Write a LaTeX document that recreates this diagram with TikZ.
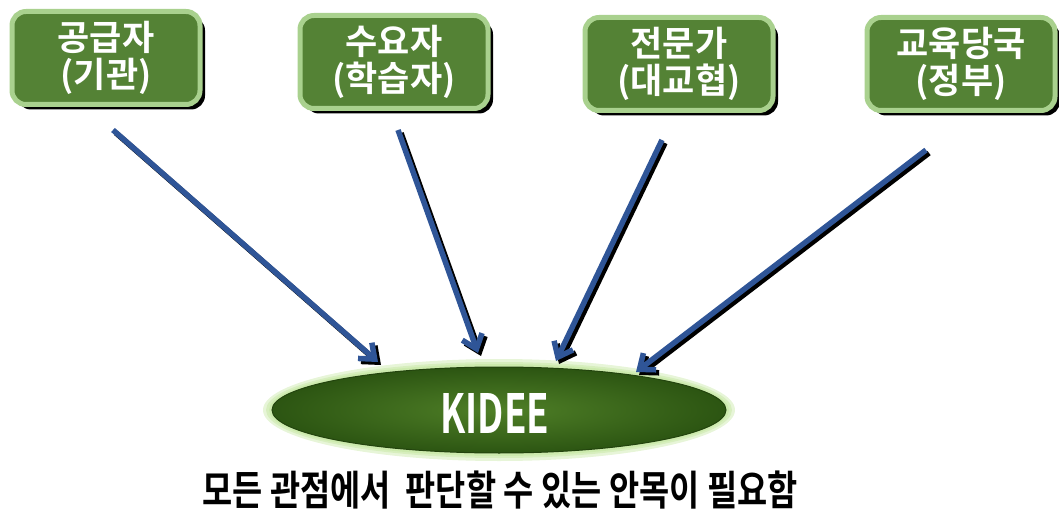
\documentclass[tikz,border=0pt]{standalone}
\usepackage{fontspec}
\setmainfont{Noto Sans CJK KR}[BoldFont={Noto Sans CJK KR Bold}]
\usetikzlibrary{shapes.geometric,shadows,arrows.meta}
\definecolor{boxfill}{HTML}{548235}
\definecolor{boxrim}{HTML}{A9D18E}
\definecolor{arrowblue}{HTML}{2F5597}
\definecolor{eggin}{HTML}{4F7F27}
\definecolor{eggout}{HTML}{2C5512}
\definecolor{glow}{HTML}{B9E28E}
\begin{document}
\begin{tikzpicture}[x=1pt,y=-1pt,
    party/.style={draw=boxrim,fill=boxfill,line width=5pt,rounded corners=14pt,
        minimum width=188pt,minimum height=93pt,align=center,text=white,
        font=\bfseries\fontsize{35}{37}\selectfont,
        drop shadow={shadow xshift=5pt,shadow yshift=-5pt,fill=black,opacity=1}},
    pointer/.style={line width=5.5pt,-{Straight Barb[length=13pt,width=21pt]},line join=miter}]
        \useasboundingbox (0,0) rectangle (1059,510);
        % the four viewpoints
        \node [party] (supply) at (106,58) {공급자\\(기관)};
        \node [party] (learner) at (394,62) {수요자\\(학습자)};
        \node [party] (expert) at (679,64) {전문가\\(대교협)};
        \node [party] (govt) at (961,64) {교육당국\\(정부)};
        % arrow ends
        \coordinate (s1) at (113,130);
        \coordinate (s2) at (398,130);
        \coordinate (s3) at (662,140);
        \coordinate (s4) at (926,150);
        \coordinate (t1) at (378,362);
        \coordinate (t2) at (478,353);
        \coordinate (t3) at (556,361);
        \coordinate (t4) at (636,372);
        % KIDEE
        \coordinate (mid) at (499,410);
        \foreach \rx/\ry in {236/51,233/48,230/46}
            \fill [glow,opacity=0.35] (mid) ellipse [x radius=\rx,y radius=\ry];
        \node [ellipse,minimum width=454pt,minimum height=86pt,inner color=eggin,outer color=eggout,
            draw=eggout!80!black,line width=1pt] (kidee) at (mid) {};
        \node [text=white,font=\bfseries\fontsize{54}{54}\selectfont,xscale=0.68] (name) at (495,413) {KIDEE};
        \foreach \i in {1,...,4} {
            \draw [pointer,black] ([shift={(3,3)}]s\i) -- ([shift={(3,3)}]t\i);
            \draw [pointer,arrowblue] (s\i) -- (t\i);
        }
        \node [font=\bfseries\fontsize{41}{41}\selectfont,xscale=0.8] (note) at (500,490)
            {모든 관점에서\ \ 판단할 수 있는 안목이 필요함};
    \end{tikzpicture}
\end{document}
